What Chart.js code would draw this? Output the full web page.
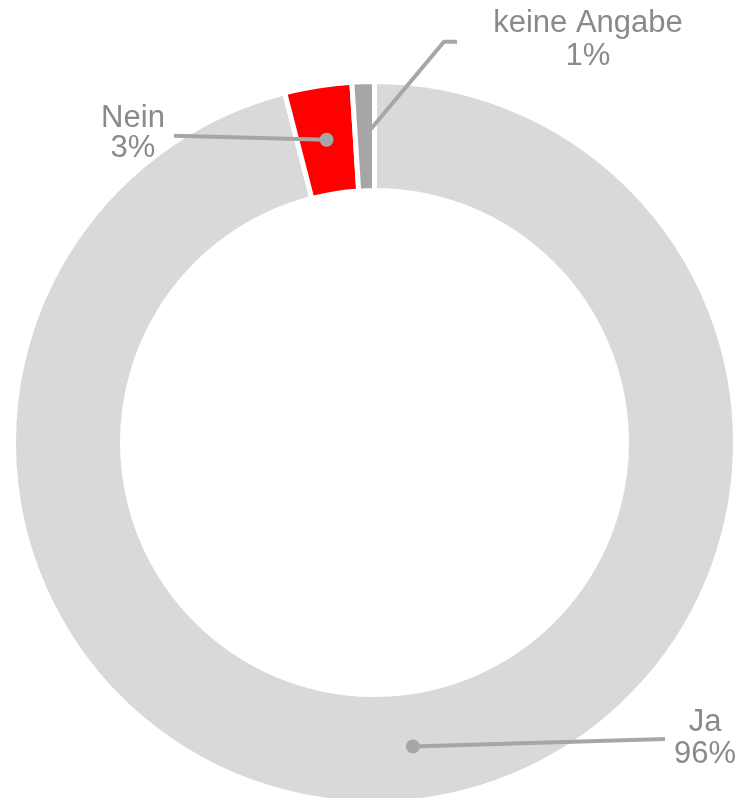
<!DOCTYPE html>
<html><head><meta charset="utf-8">
<script src="https://cdn.jsdelivr.net/npm/chart.js@4/dist/chart.umd.min.js"></script>
<style>html,body{margin:0;padding:0;background:#fff;overflow:hidden}#wrap{width:742px;height:798px;position:relative}</style>
</head><body><div id="wrap"><canvas id="c" width="742" height="798"></canvas></div>
<script>
// Data
const categories = ['Ja', 'Nein', 'keine Angabe'];
const values = [96, 3, 1];
const percentLabels = ['96%', '3%', '1%'];

// Styles
const sliceColors = ['#d9d9d9', '#ff0000', '#a6a6a6'];
const leaderColor = '#a6a6a6';
const textColor = '#8a8a8a';
const labelFont = '31px "Liberation Sans", Arial, Helvetica, sans-serif';

// Label layout (annotation placement, per category index)
const labelLayout = [
  { path: [[665, 739]], tx: 705, ty: [731, 763] },
  { path: [[174, 135.7]], tx: 133, ty: [127, 157] },
  { path: [[444, 41.7], [457, 41.7]], tx: 588, ty: [32, 65] }
];

const leaderPlugin = {
  id: 'leaders',
  afterDatasetsDraw(chart) {
    const ctx = chart.ctx;
    const meta = chart.getDatasetMeta(0);
    ctx.save();
    meta.data.forEach((arc, i) => {
      const p = arc.getProps(['x','y','startAngle','endAngle','innerRadius','outerRadius'], true);
      const mid = (p.startAngle + p.endAngle) / 2;
      const r = (p.innerRadius + p.outerRadius) / 2;
      const px = p.x + Math.cos(mid) * r;
      const py = p.y + Math.sin(mid) * r;
      const L = labelLayout[i];
      ctx.strokeStyle = leaderColor;
      ctx.lineWidth = 4;
      ctx.lineJoin = 'miter';
      ctx.beginPath();
      ctx.moveTo(px, py);
      L.path.forEach(pt => ctx.lineTo(pt[0], pt[1]));
      ctx.stroke();
      ctx.fillStyle = leaderColor;
      ctx.beginPath();
      ctx.arc(px, py, 7, 0, Math.PI * 2);
      ctx.fill();
      ctx.fillStyle = textColor;
      ctx.font = labelFont;
      ctx.textAlign = 'center';
      ctx.textBaseline = 'alphabetic';
      ctx.fillText(categories[i], L.tx, L.ty[0]);
      ctx.fillText(percentLabels[i], L.tx, L.ty[1]);
    });
    ctx.restore();
  }
};

new Chart(document.getElementById('c'), {
  type: 'doughnut',
  data: {
    labels: categories,
    datasets: [{
      data: values,
      backgroundColor: sliceColors,
      borderColor: '#ffffff',
      borderWidth: 5,
      hoverOffset: 0
    }]
  },
  options: {
    responsive: false,
    animation: false,
    events: [],
    radius: 361,
    cutout: '69.8%',
    rotation: 0,
    layout: { padding: { top: 87, left: 7, right: 0, bottom: 0 } },
    plugins: { legend: { display: false }, tooltip: { enabled: false } }
  },
  plugins: [leaderPlugin]
});
</script>
</body></html>
